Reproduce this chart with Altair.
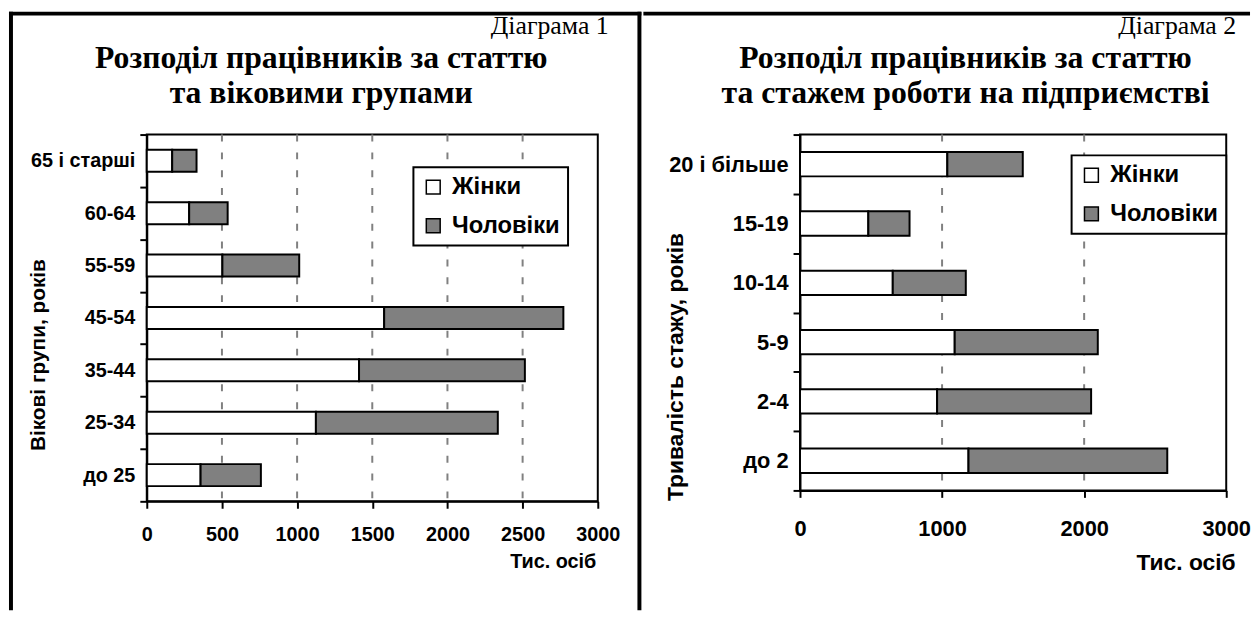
import altair as alt
import pandas as pd

# ---------------- data ----------------
sexes = ["Жінки", "Чоловіки"]
fills = ["white", "#808080"]

age_groups = ["65 і старші", "60-64", "55-59", "45-54", "35-44", "25-34", "до 25"]
age_women = [169, 282, 503, 1579, 1412, 1125, 358]
age_men = [162, 256, 511, 1192, 1103, 1210, 401]

tenure_groups = ["20 і більше", "15-19", "10-14", "5-9", "2-4", "до 2"]
tenure_women = [1037, 481, 653, 1089, 965, 1186]
tenure_men = [531, 290, 514, 1007, 1084, 1399]

left_ticks = [0, 500, 1000, 1500, 2000, 2500, 3000]
left_grid = [500, 1000, 1500, 2000, 2500]
right_ticks = [0, 1000, 2000, 3000]
right_grid = [1000, 2000]

left_label = "Діаграма 1"
left_title = ["Розподіл працівників за статтю", "та віковими групами"]
left_ytitle = "Вікові групи, років"
right_label = "Діаграма 2"
right_title = ["Розподіл працівників за статтю", "та стажем роботи на підприємстві"]
right_ytitle = "Тривалість стажу, років"
xtitle = "Тис. осіб"

SANS = "Liberation Sans"
SERIF = "Liberation Serif"
one = pd.DataFrame({"k": [0]})


def block(x1, x2, y1, y2):
    return alt.Chart(one).mark_rect(color="black").encode(
        x=alt.value(x1), x2=alt.value(x2), y=alt.value(y1), y2=alt.value(y2)
    )


def label(s, x, y, size, weight, align):
    return alt.Chart(pd.DataFrame({"t": [s]})).mark_text(
        font=SERIF, fontSize=size, fontWeight=weight, align=align,
        baseline="alphabetic", color="black"
    ).encode(x=alt.value(x), y=alt.value(y), text="t:N")


def panel(groups, women, men, ticks, grid, W, H, g):
    rows = []
    for grp, w, m in zip(groups, women, men):
        rows.append({"group": grp, "sex": sexes[0], "value": w, "ord": 0})
        rows.append({"group": grp, "sex": sexes[1], "value": m, "ord": 1})
    df = pd.DataFrame(rows)
    xscale = alt.Scale(domain=[0, 3000], nice=False)

    gridlines = alt.Chart(pd.DataFrame({"value": grid})).mark_rule(
        color="#808080", strokeDash=[7, 11], strokeWidth=2
    ).encode(x=alt.X("value:Q", scale=xscale))

    bars = alt.Chart(df).mark_bar(
        stroke="black", strokeWidth=2, opacity=1,
        height=alt.RelativeBandSize(g["band"])
    ).encode(
        x=alt.X("value:Q", stack="zero", scale=xscale,
                axis=alt.Axis(values=ticks, format="d", title=xtitle,
                              titleFont=SANS, titleFontSize=g["fx_title"], titleFontWeight="bold",
                              titleColor="black", titleX=g["xt_x"], titleY=g["xt_y"],
                              titleAlign="right", titleBaseline="middle",
                              labelFont=SANS, labelFontSize=g["fx"], labelFontWeight="bold",
                              labelColor="black", labelPadding=g["xpad"], labelFlush=False,
                              labelOverlap=False, tickSize=7, tickWidth=2, tickColor="black",
                              domainColor="black", domainWidth=2, grid=False)),
        y=alt.Y("group:N", sort=groups,
                scale=alt.Scale(paddingInner=0, paddingOuter=0),
                axis=alt.Axis(title=g["ytitle"], titleFont=SANS, titleFontSize=g["fy_title"],
                              titleFontWeight="bold", titleColor="black", titleAngle=270,
                              titleX=g["yt_x"], titleY=g["yt_y"], titleAlign="center",
                              titleBaseline="middle",
                              labelFont=SANS, labelFontSize=g["fy"], labelFontWeight="bold",
                              labelColor="black", labelPadding=5, labelLimit=300,
                              tickBand="extent", tickSize=7, tickWidth=2, tickColor="black",
                              domainColor="black", domainWidth=2, grid=False)),
        color=alt.Color("sex:N", scale=alt.Scale(domain=sexes, range=fills),
                        legend=alt.Legend(title=None, orient="none",
                                          legendX=g["lx"], legendY=g["ly"],
                                          symbolType="square", symbolSize=196,
                                          symbolStrokeColor="black", symbolStrokeWidth=1.5,
                                          labelFont=SANS, labelFontSize=24, labelFontWeight="bold",
                                          labelColor="black", labelOffset=7,
                                          padding=8, rowPadding=15,
                                          strokeColor="black", fillColor="white")),
        order=alt.Order("ord:Q"),
    )

    texts = [
        label(g["label"], g["lab_x"], g["lab_y"], 26, "normal", "right"),
        label(g["title"][0], g["t_x"], g["t_y1"], 32, "bold", "center"),
        label(g["title"][1], g["t_x"], g["t_y2"], 32, "bold", "center"),
    ]
    frames = [block(*b) for b in g["frames"]]
    return alt.layer(gridlines, bars, *frames, *texts).properties(width=W, height=H)


left = panel(age_groups, age_women, age_men, left_ticks, left_grid, 455, 370, dict(
    band=0.42, fx=20, fy=20, fx_title=20, fy_title=21, xpad=17,
    xt_x=453, xt_y=61, yt_x=-109, yt_y=222, ytitle=left_ytitle,
    lx=269, ly=33,
    label=left_label, lab_x=466, lab_y=-101,
    title=left_title, t_x=176, t_y1=-67, t_y2=-32,
    frames=[(-139, -135, -124, 480), (-139, 499, -124, -120), (495, 499, -124, 480)],
))

right = panel(tenure_groups, tenure_women, tenure_men, right_ticks, right_grid, 430, 359, dict(
    band=0.41, fx=22, fy=22, fx_title=23, fy_title=23, xpad=21,
    xt_x=439, xt_y=73, yt_x=-126, yt_y=234, ytitle=right_ytitle,
    lx=274, ly=21,
    label=right_label, lab_x=440, lab_y=-101,
    title=right_title, t_x=167, t_y1=-67, t_y2=-32,
    frames=[(-158, 454, -124, -120)],
))

chart = alt.hconcat(left, right, spacing=0).resolve_scale(
    color="independent", x="independent", y="independent"
).resolve_legend(color="independent").properties(
    padding={"left": 0, "top": 0, "right": 0, "bottom": 0},
    background="white",
).configure_view(stroke="black", strokeWidth=2).configure_legend(strokeWidth=2)

chart.save("out.html", embed_options={"renderer": "svg", "actions": False})
